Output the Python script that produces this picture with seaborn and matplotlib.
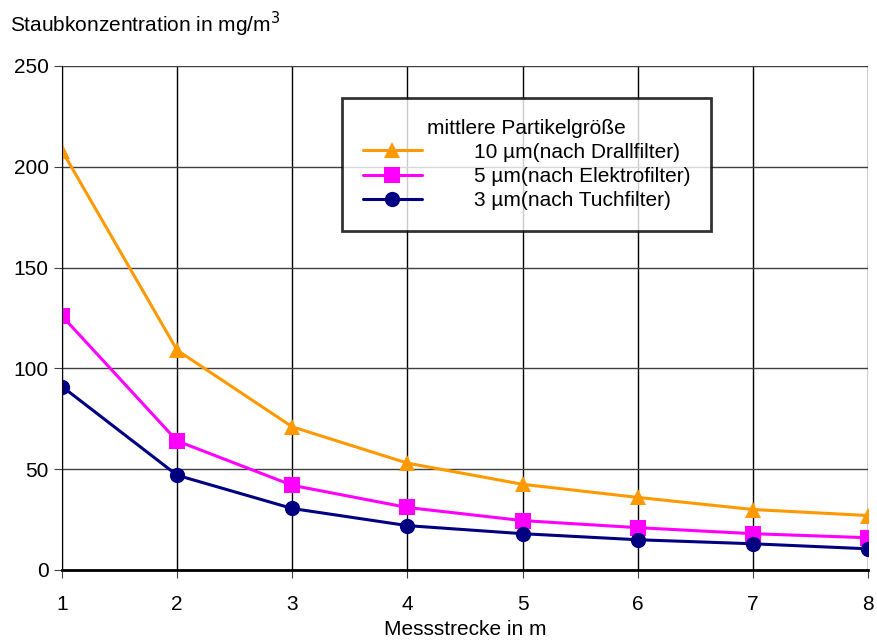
import pandas as pd
import matplotlib
matplotlib.use("Agg")
import matplotlib.pyplot as plt
import seaborn as sns

# data
strecke = [1, 2, 3, 4, 5, 6, 7, 8]
drall = [208, 109, 71, 53, 42.5, 36, 30, 27]
elektro = [126, 64, 42, 31, 24.5, 21, 18, 16]
tuch = [91, 47, 30.5, 22, 18, 15, 13, 10.5]
labels = ["10 µm(nach Drallfilter)", "5 µm(nach Elektrofilter)", "3 µm(nach Tuchfilter)"]

df = pd.DataFrame({
    "x": strecke * 3,
    "y": drall + elektro + tuch,
    "serie": [labels[0]] * 8 + [labels[1]] * 8 + [labels[2]] * 8,
})

sns.set_style("white")
plt.rcParams["font.family"] = ["Liberation Sans", "DejaVu Sans"]
plt.rcParams["text.color"] = "black"
plt.rcParams["xtick.color"] = "black"
plt.rcParams["ytick.color"] = "black"
plt.rcParams["axes.labelcolor"] = "black"

fig = plt.figure(figsize=(8.77, 6.4), dpi=100)
ax = fig.add_axes([0.0707, 0.1094, 0.919, 0.7875])

farben = {labels[0]: "#FF9900", labels[1]: "#FF00FF", labels[2]: "#000080"}
marker = {labels[0]: "^", labels[1]: "s", labels[2]: "o"}

sns.lineplot(data=df, x="x", y="y", hue="serie", style="serie",
             palette=farben, markers=marker, dashes=False,
             markersize=11, linewidth=2.2, markeredgewidth=0, ax=ax)

ax.set_xlim(1, 8)
ax.set_ylim(0, 250)
ax.set_xticks(strecke)
ax.set_yticks([0, 50, 100, 150, 200, 250])
ax.tick_params(labelsize=15, length=6, direction="out", color="#404040",
               left=True, bottom=True)
ax.tick_params(axis="x", pad=12)
ax.grid(True, axis="x", color="black", linewidth=1)
ax.grid(True, axis="y", color="#404040", linewidth=1)
ax.set_axisbelow(True)
for s in ["top", "right"]:
    ax.spines[s].set_visible(False)
ax.spines["left"].set_color("black")
ax.spines["bottom"].set_color("black")
ax.spines["bottom"].set_linewidth(2)

ax.set_xlabel("Messstrecke in m", fontsize=15, labelpad=4)
ax.set_ylabel("")
fig.text(0.011, 0.95, "Staubkonzentration in mg/m$^3$", fontsize=15, ha="left")

leg = ax.legend(title="mittlere Partikelgröße", loc="upper left",
                bbox_to_anchor=(0.348, 0.937), fontsize=15, title_fontsize=15,
                frameon=True, fancybox=False, handlelength=2.8,
                handletextpad=2.5, borderpad=1.0, labelspacing=0.25,
                borderaxespad=0)
leg.get_frame().set_edgecolor("black")
leg.get_frame().set_linewidth(2)
leg._legend_box.align = "center"

fig.savefig("out.png", dpi=100)
